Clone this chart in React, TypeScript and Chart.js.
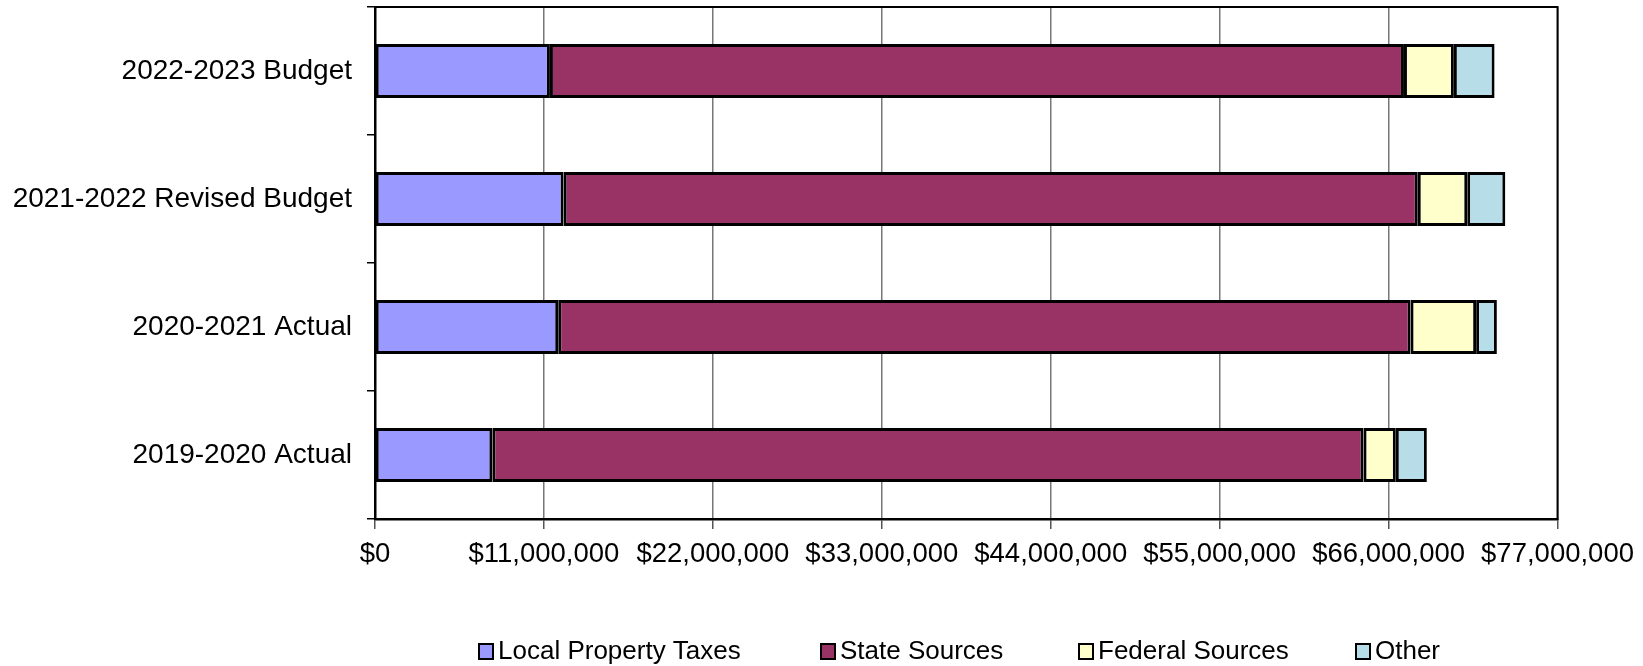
import React, { useEffect, useRef } from 'react';
import { Chart, registerables } from 'chart.js';

Chart.register(...registerables);

const categories = [
  '2022-2023 Budget',
  '2021-2022 Revised Budget',
  '2020-2021 Actual',
  '2019-2020 Actual',
];
const localPropertyTaxes = [11390000, 12280000, 11930000, 7640000];
const stateSources = [55610000, 55620000, 55500000, 56730000];
const federalSources = [3250000, 3220000, 4270000, 2100000];
const otherSources = [2650000, 2480000, 1350000, 2020000];
const seriesNames = ['Local Property Taxes', 'State Sources', 'Federal Sources', 'Other'];
const seriesColors = ['#9999FF', '#993366', '#FFFFCC', '#B7DEE8'];
const xTickValues = [0, 11000000, 22000000, 33000000, 44000000, 55000000, 66000000, 77000000];

const W = 1643;
const H = 666;
const FONT = '"Liberation Sans", Arial, sans-serif';
const LEGEND_X = [479, 821, 1079, 1356];
const LEGEND_Y = 651;

const framePlugin = {
  id: 'plotFrame',
  afterDatasetsDraw(chart: any) {
    const { ctx, chartArea } = chart;
    ctx.save();
    ctx.strokeStyle = '#000';
    ctx.lineWidth = 2;
    ctx.strokeRect(chartArea.left, chartArea.top, chartArea.right - chartArea.left, chartArea.bottom - chartArea.top);
    ctx.restore();
  },
};

const legendPlugin = {
  id: 'customLegend',
  afterDraw(chart: any) {
    const ctx = chart.ctx;
    ctx.save();
    ctx.font = `26px ${FONT}`;
    ctx.textBaseline = 'middle';
    ctx.textAlign = 'left';
    chart.data.datasets.forEach((ds: any, i: number) => {
      const x = LEGEND_X[i];
      const y = LEGEND_Y;
      ctx.fillStyle = ds.backgroundColor;
      ctx.fillRect(x, y - 7, 14, 15);
      ctx.strokeStyle = '#000';
      ctx.lineWidth = 2;
      ctx.strokeRect(x, y - 7, 14, 15);
      ctx.fillStyle = '#000';
      ctx.fillText(ds.label, x + 19, y + 1);
    });
    ctx.restore();
  },
};

export default function App() {
  const ref = useRef<HTMLCanvasElement | null>(null);

  useEffect(() => {
    document.body.style.margin = '0';
    const canvas = ref.current;
    if (!canvas) return;
    const series = [localPropertyTaxes, stateSources, federalSources, otherSources];
    const chart = new Chart(canvas, {
      type: 'bar',
      data: {
        labels: categories,
        datasets: series.map((d, i) => ({
          label: seriesNames[i],
          data: d,
          backgroundColor: seriesColors[i],
          borderColor: '#000',
          borderWidth: 3,
          borderSkipped: false,
          barPercentage: 0.42,
          categoryPercentage: 1,
        })),
      },
      options: {
        indexAxis: 'y',
        responsive: false,
        animation: false,
        devicePixelRatio: 1,
        layout: { padding: { top: 7, right: 85, left: 0, bottom: 0 } },
        plugins: {
          legend: { display: false },
          tooltip: { enabled: false },
        },
        scales: {
          x: {
            stacked: true,
            min: 0,
            max: 77000000,
            afterBuildTicks: (s: any) => {
              s.ticks = xTickValues.map((v) => ({ value: v }));
            },
            afterFit: (s: any) => {
              s.height = H - 519;
              s.paddingTop = 0;
              s.paddingBottom = 0;
            },
            grid: {
              color: '#777',
              lineWidth: 1.5,
              drawTicks: true,
              tickLength: 10,
              tickColor: '#555',
            },
            border: { color: '#000', width: 2.5 },
            ticks: {
              color: '#000',
              font: { family: FONT, size: 27.5 },
              padding: 9,
              maxRotation: 0,
              autoSkip: false,
              callback: (v: any) => '$' + Number(v).toLocaleString('en-US'),
            },
          },
          y: {
            stacked: true,
            afterFit: (s: any) => {
              s.width = 375;
              s.paddingTop = 0;
              s.paddingBottom = 0;
            },
            grid: {
              drawOnChartArea: false,
              drawTicks: true,
              tickLength: 8,
              tickColor: '#000',
              offset: true,
              lineWidth: 1.5,
            },
            border: { color: '#000', width: 2.5 },
            ticks: {
              color: '#000',
              font: { family: FONT, size: 28 },
              padding: 15,
            },
          },
        },
      },
      plugins: [framePlugin, legendPlugin],
    } as any);
    return () => chart.destroy();
  }, []);

  return (
    <div style={{ width: W, height: H, position: 'relative' }}>
      <canvas ref={ref} width={W} height={H} style={{ display: 'block', width: W, height: H }} />
    </div>
  );
}
